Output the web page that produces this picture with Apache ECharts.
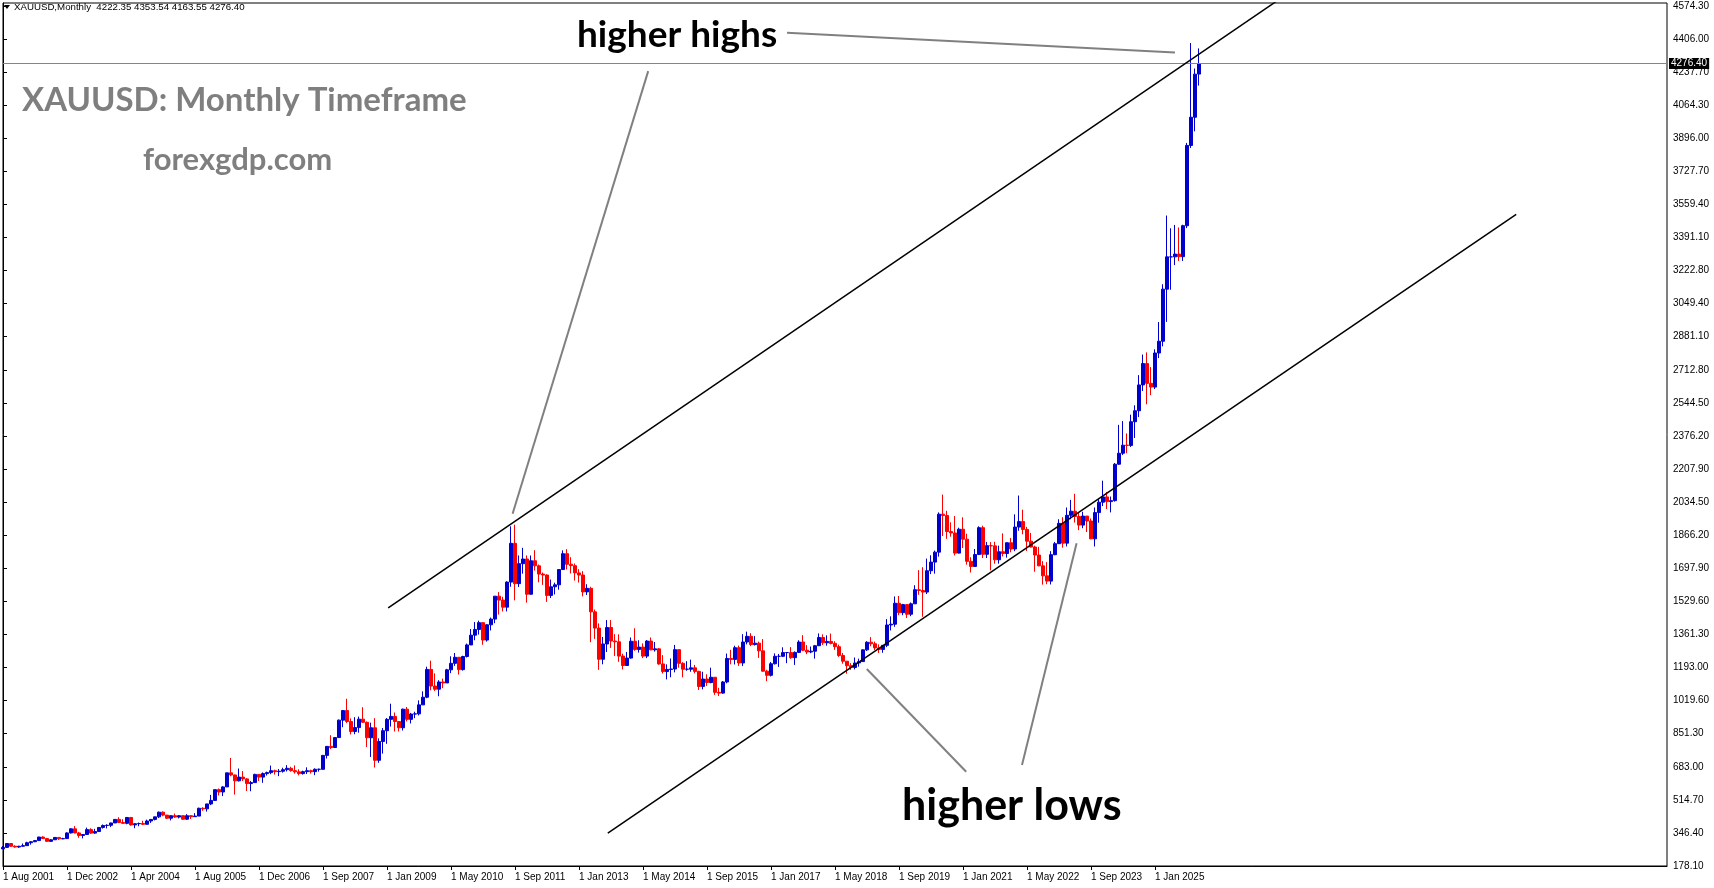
<!DOCTYPE html>
<html><head><meta charset="utf-8">
<script src="https://cdn.jsdelivr.net/npm/echarts@6/dist/echarts.min.js"></script>
<style>html,body{margin:0;padding:0;background:#fff;overflow:hidden}#c{width:1714px;height:888px}</style>
</head><body><div id="c"></div>
<script>
// Monthly bars: [open, high, low, close]
const y2001 = [[265.5,280,265,273],[273,293.5,271,293],[293,294,275.5,279],[279,284,272,275],[275,281,271,279]];
const y2002 = [[279,293,277,282],[282,302,282,297],[297,305,287,302],[302,311,300,308],[308,327,306,326],[326,330,316,318],[318,322,303,304],[304,315,302,312],[312,326,312,324],[324,324,311,317],[317,322,315,318],[318,350,317,347]];
const y2003 = [[347,370,344,368],[368,382,345,347],[347,352,322,334],[334,341,319,339],[339,374,338,364],[364,371,342,346],[346,368,342,354],[354,376,353,375],[375,390,369,385],[385,391,370,386],[386,399,377,398],[398,417,398,416]];
const y2004 = [[416,427,399,400],[400,417,393,396],[396,427,391,426],[426,427,384,388],[388,396,371,394],[394,400,381,395],[395,409,387,391],[391,415,390,408],[408,418,398,416],[416,430,411,429],[429,456,423,453],[453,457,432,438]];
const y2005 = [[438,438,418,422],[422,437,411,435],[435,446,424,428],[428,438,421,435],[435,436,414,417],[417,443,414,435],[435,436,418,430],[430,448,430,433],[433,476,433,473],[473,478,460,470],[470,496,456,495],[495,541,489,513]];
const y2006 = [[513,570,513,568],[568,574,538,556],[556,586,535,582],[582,654,582,654],[654,730,636,643],[643,645,543,613],[613,676,610,632],[632,663,612,623],[623,627,561,599],[599,612,560,604],[604,649,603,646],[646,648,612,632]];
const y2007a = [[632,656,603,650],[650,660,640,655],[655,691,647,665],[665,670,645,660],[660,673,637,662],[662,680,655,670],[670,693,661,677],[677,685,660,665],[665,692,650,659],[659,672,641,650],[650,665,645,660],[660,682,648,665],[665,670,650,660],[660,677,642,672],[672,675,660,672]];
const y2007b = [[672,745,670,743],[743,791,727,789],[789,846,775,783],[783,837,781,834]];
const y2008 = [[834,926,834,923],[923,975,887,972],[972,1032,908,916],[916,932,850,865],[865,938,851,885],[885,941,859,928],[928,989,909,912],[912,916,786,833],[833,910,735,884],[884,933,681,718],[718,830,705,814],[814,883,752,869]];
const y2009 = [[869,934,802,927],[927,1007,890,942],[942,962,865,916],[916,916,865,884],[884,982,870,979],[979,990,916,927],[927,960,906,954],[954,966,933,955],[955,1024,947,1001],[1001,1070,1001,1040],[1040,1196,1035,1182],[1182,1227,1075,1097]];
const y2010 = [[1097,1162,1072,1081],[1081,1127,1045,1118],[1118,1135,1086,1113],[1113,1185,1113,1180],[1180,1249,1163,1213],[1213,1266,1200,1244],[1244,1244,1156,1181],[1181,1252,1176,1248],[1248,1314,1243,1307],[1307,1388,1307,1357],[1357,1424,1331,1386],[1386,1431,1360,1421]];
const y2011 = [[1421,1424,1308,1332],[1332,1413,1324,1410],[1410,1447,1381,1439],[1439,1557,1418,1556],[1556,1577,1462,1536],[1536,1553,1478,1500],[1500,1632,1478,1628],[1628,1913,1604,1826],[1826,1921,1535,1620],[1620,1764,1603,1722],[1722,1803,1671,1746],[1746,1764,1523,1566]];
const y2012 = [[1566,1764,1564,1737],[1737,1791,1687,1711],[1711,1718,1627,1669],[1669,1677,1614,1664],[1664,1667,1527,1560],[1560,1641,1547,1604],[1604,1625,1565,1614],[1614,1694,1589,1692],[1692,1790,1690,1773],[1773,1796,1692,1719],[1719,1755,1672,1712],[1712,1723,1636,1675]];
const y2013 = [[1675,1694,1626,1664],[1664,1684,1555,1578],[1578,1617,1562,1596],[1596,1604,1321,1476],[1476,1488,1338,1393],[1393,1417,1180,1234],[1234,1348,1208,1312],[1312,1434,1271,1396],[1396,1434,1292,1327],[1327,1362,1251,1323],[1323,1361,1221,1250],[1250,1262,1182,1202]];
const y2014 = [[1202,1271,1202,1240],[1240,1345,1237,1326],[1326,1392,1277,1284],[1284,1331,1268,1296],[1296,1315,1240,1250],[1250,1332,1240,1327],[1327,1345,1280,1282],[1282,1322,1273,1287],[1287,1292,1206,1210],[1210,1255,1161,1171],[1171,1208,1131,1182],[1182,1238,1142,1184]];
const y2015 = [[1184,1307,1167,1283],[1283,1283,1191,1213],[1213,1219,1142,1183],[1183,1224,1175,1183],[1183,1232,1170,1190],[1190,1205,1162,1172],[1172,1175,1077,1095],[1095,1170,1080,1133],[1133,1157,1098,1115],[1115,1191,1111,1142],[1142,1142,1052,1065],[1065,1088,1046,1061]];
const y2016 = [[1061,1123,1058,1118],[1118,1263,1111,1238],[1238,1282,1208,1233],[1233,1303,1207,1293],[1293,1304,1200,1215],[1215,1362,1199,1322],[1322,1375,1310,1351],[1351,1367,1301,1309],[1309,1352,1304,1316],[1316,1324,1241,1277],[1277,1337,1171,1173],[1173,1180,1122,1152]];
const y2017 = [[1152,1220,1146,1211],[1211,1264,1207,1249],[1249,1261,1195,1249],[1249,1295,1245,1268],[1268,1270,1214,1268],[1268,1296,1236,1242],[1242,1274,1205,1269],[1269,1331,1267,1322],[1322,1357,1275,1280],[1280,1306,1260,1271],[1271,1299,1265,1275],[1275,1307,1237,1303]];
const y2018 = [[1303,1366,1302,1345],[1345,1361,1307,1318],[1318,1356,1303,1325],[1325,1365,1310,1315],[1315,1326,1282,1298],[1298,1309,1246,1253],[1253,1266,1211,1224],[1224,1225,1160,1201],[1201,1214,1180,1192],[1192,1243,1182,1215],[1215,1237,1196,1222],[1222,1284,1221,1282]];
const y2019 = [[1282,1326,1276,1321],[1321,1347,1300,1313],[1313,1324,1281,1292],[1292,1310,1266,1284],[1284,1306,1267,1305],[1305,1439,1296,1409],[1409,1453,1381,1413],[1413,1555,1400,1520],[1520,1557,1459,1472],[1472,1517,1459,1513],[1513,1516,1445,1464],[1464,1524,1454,1517]];
const y2020 = [[1517,1612,1517,1589],[1589,1689,1563,1585],[1585,1704,1451,1577],[1577,1748,1567,1686],[1686,1765,1669,1730],[1730,1789,1671,1781],[1781,1984,1758,1975],[1975,2075,1863,1968],[1968,1992,1849,1886],[1886,1933,1860,1879],[1879,1965,1764,1776],[1776,1906,1775,1898]];
const y2021 = [[1898,1959,1802,1847],[1847,1875,1717,1734],[1734,1755,1677,1708],[1708,1797,1706,1769],[1769,1913,1766,1906],[1906,1916,1751,1770],[1770,1833,1751,1814],[1814,1832,1688,1813],[1813,1834,1722,1742],[1742,1814,1722,1783],[1783,1877,1759,1774],[1774,1831,1753,1829]];
const y2022 = [[1829,1853,1780,1797],[1797,1974,1786,1909],[1909,2070,1890,1937],[1937,1998,1872,1897],[1897,1910,1787,1837],[1837,1879,1805,1807],[1807,1814,1681,1766],[1766,1808,1709,1711],[1711,1735,1615,1660],[1660,1730,1617,1633],[1633,1786,1616,1768],[1768,1833,1765,1824]];
const y2023 = [[1824,1949,1823,1928],[1928,1959,1804,1827],[1827,2009,1810,1969],[1969,2048,1949,1990],[1990,2079,1932,1963],[1963,1983,1893,1919],[1919,1987,1903,1965],[1965,1966,1884,1940],[1940,1953,1847,1849],[1849,2009,1810,1983],[1983,2052,1931,2036],[2036,2146,2016,2063]];
const y2024 = [[2063,2088,2001,2039],[2039,2065,1984,2044],[2044,2236,2039,2230],[2230,2431,2228,2286],[2286,2450,2277,2327],[2327,2387,2286,2326],[2326,2483,2318,2447],[2447,2531,2364,2503],[2503,2685,2471,2635],[2635,2790,2604,2744],[2744,2801,2536,2643],[2643,2726,2583,2624]];
const y2025 = [[2624,2817,2614,2798],[2798,2956,2772,2858],[2858,3149,2832,3124],[3124,3500,2957,3289],[3289,3435,3121,3289],[3289,3452,3247,3303],[3303,3439,3268,3290],[3290,3453,3268,3448],[3448,3871,3436,3858],[3858,4381,3845,4002],[4002,4251,3930,4222],[4222.35,4353.54,4163.55,4276.40]];

const xTickLabels = ['1 Aug 2001','1 Dec 2002','1 Apr 2004','1 Aug 2005','1 Dec 2006','1 Sep 2007','1 Jan 2009','1 May 2010','1 Sep 2011','1 Jan 2013','1 May 2014','1 Sep 2015','1 Jan 2017','1 May 2018','1 Sep 2019','1 Jan 2021','1 May 2022','1 Sep 2023','1 Jan 2025'];
const yTickLabels = ['178.10','346.40','514.70','683.00','851.30','1019.60','1193.00','1361.30','1529.60','1697.90','1866.20','2034.50','2207.90','2376.20','2544.50','2712.80','2881.10','3049.40','3222.80','3391.10','3559.40','3727.70','3896.00','4064.30','4237.70','4406.00','4574.30'];
const headerSymbol = 'XAUUSD,Monthly';

// Drawn objects in (bar index, price) coordinates
const upperChannel = [[96.3,1496.7],[322,4645]];
const lowerChannel = [[151.2,346.6],[378.3,3506.4]];
const pointerHighA = [[161.3,4237.6],[127.4,1976.8]];
const pointerHighB = [[196,4433.2],[293,4332.6]];
const pointerLowA = [[240.8,659.7],[215.95,1184.2]];
const pointerLowB = [[254.75,693.9],[268.4,1826.1]];

const titleText = 'XAUUSD: Monthly Timeframe';
const siteText = 'forexgdp.com';
const highsText = 'higher highs';
const lowsText = 'higher lows';

// ---- build ----
const bars = [].concat(y2001,y2002,y2003,y2004,y2005,y2006,y2007a,y2007b,y2008,y2009,y2010,y2011,y2012,y2013,y2014,y2015,y2016,y2017,y2018,y2019,y2020,y2021,y2022,y2023,y2024,y2025);
const candleData = bars.map(b => [b[0], b[3], b[2], b[1]]);
const last = bars[bars.length - 1];
const N_SLOTS = 417;
const categories = Array.from({length: N_SLOTS}, (_, i) => String(i));
const Y_MIN = 178.1, Y_MAX = 4585.4, Y_STEP = 168.94;
const yTickValues = yTickLabels.map((_, k) => +(Y_MIN + k * Y_STEP).toFixed(4));
const AX_FONT = 'Liberation Sans';
const BLUE = '#0000cd', RED = '#ff0000';

function yFmt(v) {
  const k = Math.round((v - Y_MIN) / Y_STEP);
  if (k < 0 || k >= yTickLabels.length) return '';
  if (Math.abs(v - (Y_MIN + k * Y_STEP)) > 1) return '';
  return yTickLabels[k];
}
function lineSeries(pts, color, width) {
  return {type: 'line', xAxisIndex: 1, yAxisIndex: 0, data: pts, symbol: 'none', silent: true,
    clip: true, lineStyle: {color: color, width: width}, z: 5, animation: false};
}

const chart = echarts.init(document.getElementById('c'), null, {renderer: 'canvas'});
chart.setOption({
  animation: false,
  backgroundColor: '#ffffff',
  grid: {left: 3, top: 3, right: 47, bottom: 22, show: true, borderColor: '#000', borderWidth: 1, backgroundColor: 'transparent'},
  xAxis: [{
    type: 'category', data: categories, boundaryGap: false,
    axisLine: {show: true, lineStyle: {color: '#000', width: 1}},
    axisTick: {show: true, length: 4, lineStyle: {color: '#000'},
      interval: (i) => i % 16 === 0 && i / 16 < xTickLabels.length},
    axisLabel: {show: true, interval: (i) => i % 16 === 0 && i / 16 < xTickLabels.length,
      formatter: (v, i) => xTickLabels[i / 16] || '', align: 'left', margin: 6,
      fontFamily: AX_FONT, fontSize: 10, color: '#000'},
    splitLine: {show: false}
  }, {
    type: 'value', min: 0, max: N_SLOTS - 1, show: false, gridIndex: 0
  }],
  yAxis: [{
    type: 'value', position: 'right', min: Y_MIN, max: Y_MAX, interval: Y_STEP, scale: true,
    axisLine: {show: true, lineStyle: {color: '#000', width: 1}},
    axisTick: {show: true, inside: false, length: 4, lineStyle: {color: '#000'}, customValues: yTickValues},
    axisLabel: {show: true, formatter: yFmt, margin: 6, fontFamily: AX_FONT, fontSize: 10, color: '#000', customValues: yTickValues},
    splitLine: {show: false}
  }],
  series: [{
    type: 'candlestick', xAxisIndex: 0, yAxisIndex: 0, data: candleData, barWidth: 3,
    itemStyle: {color: BLUE, color0: RED, borderColor: BLUE, borderColor0: RED, borderWidth: 1},
    z: 3,
    markLine: {
      silent: true, symbol: 'none', animation: false,
      lineStyle: {color: '#778899', type: 'solid', width: 1},
      label: {show: true, position: 'end', distance: 2, formatter: () => last[3].toFixed(2),
        backgroundColor: '#000', color: '#fff', padding: [1, 2, 0, 2], fontFamily: AX_FONT, fontSize: 10},
      data: [{yAxis: last[3]}]
    }
  },
    lineSeries(upperChannel, '#000', 1.5),
    lineSeries(lowerChannel, '#000', 1.5),
    lineSeries(pointerHighA, '#808080', 2),
    lineSeries(pointerHighB, '#808080', 2),
    lineSeries(pointerLowA, '#808080', 2),
    lineSeries(pointerLowB, '#808080', 2)
  ],
  graphic: [
    {type: 'polygon', shape: {points: [[4,5],[10,5],[7,9]]}, style: {fill: '#000'}, z: 10},
    {type: 'text', x: 14, y: 7, style: {text: headerSymbol + '  ' + last.map(v => v.toFixed(2)).join(' '), font: '9.7px "Liberation Sans"', fill: '#000', textVerticalAlign: 'middle'}, z: 10},
    {type: 'text', x: 577, y: 35, style: {text: highsText, font: 'bold 37px Lato', fill: '#000', textVerticalAlign: 'middle'}, z: 10},
    {type: 'text', x: 22, y: 100, style: {text: titleText, font: 'bold 33px Lato', fill: '#7f7f7f', textVerticalAlign: 'middle'}, z: 10},
    {type: 'text', x: 143, y: 160, style: {text: siteText, font: 'bold 31px Lato', fill: '#7f7f7f', textVerticalAlign: 'middle'}, z: 10},
    {type: 'text', x: 902, y: 806, style: {text: lowsText, font: 'bold 43px Lato', fill: '#000', textVerticalAlign: 'middle'}, z: 10}
  ]
});
</script></body></html>
